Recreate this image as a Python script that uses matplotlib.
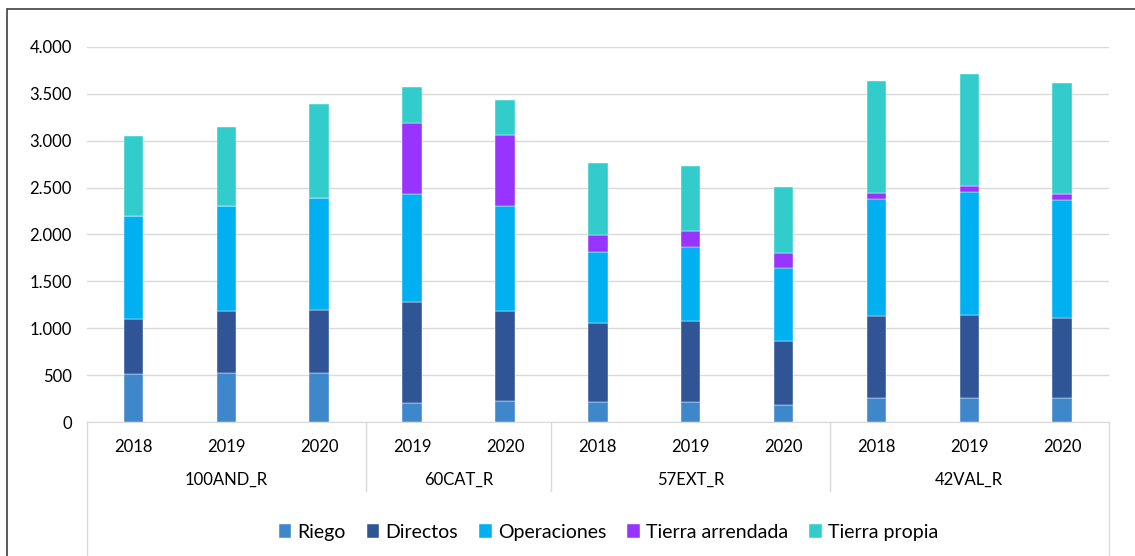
import matplotlib.pyplot as plt
import numpy as np
from matplotlib.patches import Rectangle
from matplotlib.ticker import FuncFormatter

# Datos
anios = ["2018", "2019", "2020", "2019", "2020", "2018", "2019", "2020", "2018", "2019", "2020"]
grupos = ["100AND_R", "60CAT_R", "57EXT_R", "42VAL_R"]
barras_por_grupo = [3, 2, 3, 3]

riego = [510, 525, 525, 200, 225, 210, 210, 182, 256, 256, 256]
directos = [590, 655, 668, 1075, 957, 847, 865, 683, 873, 884, 851]
operaciones = [1100, 1120, 1192, 1158, 1121, 755, 791, 776, 1253, 1316, 1261]
tierra_arrendada = [0, 0, 0, 754, 755, 182, 167, 164, 56, 57, 60]
tierra_propia = [855, 850, 1008, 384, 381, 765, 701, 701, 1201, 1200, 1192]

series = [
    ("Riego", riego, "#3E87CB"),
    ("Directos", directos, "#2F5597"),
    ("Operaciones", operaciones, "#00B0F0"),
    ("Tierra arrendada", tierra_arrendada, "#9933FF"),
    ("Tierra propia", tierra_propia, "#33CCCC"),
]

plt.rcParams['font.family'] = ['Lato', 'DejaVu Sans']
plt.rcParams['font.size'] = 12

fig = plt.figure(figsize=(11.35, 5.56), dpi=100)
ax = fig.add_axes([0.0767, 0.241, 0.9, 0.6745])

x = np.arange(len(anios))
base = np.zeros(len(anios))
for nombre, valores, color in series:
    ax.bar(x, valores, bottom=base, width=0.21, color=color, label=nombre,
           edgecolor="white", linewidth=0.3, zorder=3)
    base += np.array(valores)

ax.set_xlim(-0.5, len(anios) - 0.5)
ax.set_ylim(0, 4000)
ax.set_yticks(np.arange(0, 4001, 500))
ax.yaxis.set_major_formatter(FuncFormatter(lambda v, p: f"{int(v):,}".replace(",", ".")))
ax.grid(axis="y", color="#D9D9D9", linewidth=1, zorder=0)
for s in ["top", "right", "left"]:
    ax.spines[s].set_visible(False)
ax.spines["bottom"].set_color("#D9D9D9")
ax.tick_params(axis="y", length=0, pad=11, labelsize=12)
ax.tick_params(axis="x", length=0, pad=12, labelsize=12)
ax.set_xticks(x)
ax.set_xticklabels(anios)

# Ejes de categorías agrupadas
trans = ax.get_xaxis_transform()
limites = np.concatenate([[0], np.cumsum(barras_por_grupo)]) - 0.5
for i, lim in enumerate(limites):
    bajo = -0.5 if i in (0, len(limites) - 1) else -0.185
    ax.plot([lim, lim], [0, bajo], transform=trans, color="#D9D9D9",
            linewidth=1, clip_on=False)
for g, nombre in enumerate(grupos):
    centro = (limites[g] + limites[g + 1]) / 2
    ax.text(centro, -0.155, nombre, transform=trans, ha="center", va="center",
            fontsize=12)

fig.legend(loc="center", bbox_to_anchor=(0.536, 0.042), ncol=5, frameon=False,
           handlelength=0.65, handleheight=0.75, handletextpad=0.3,
           columnspacing=1.1, fontsize=14)

fig.patches.append(Rectangle((0.006, -0.1), 1.2, 1.084, transform=fig.transFigure,
                             fill=False, edgecolor="#404040", linewidth=1.2))

fig.savefig("out.png", dpi=100)
